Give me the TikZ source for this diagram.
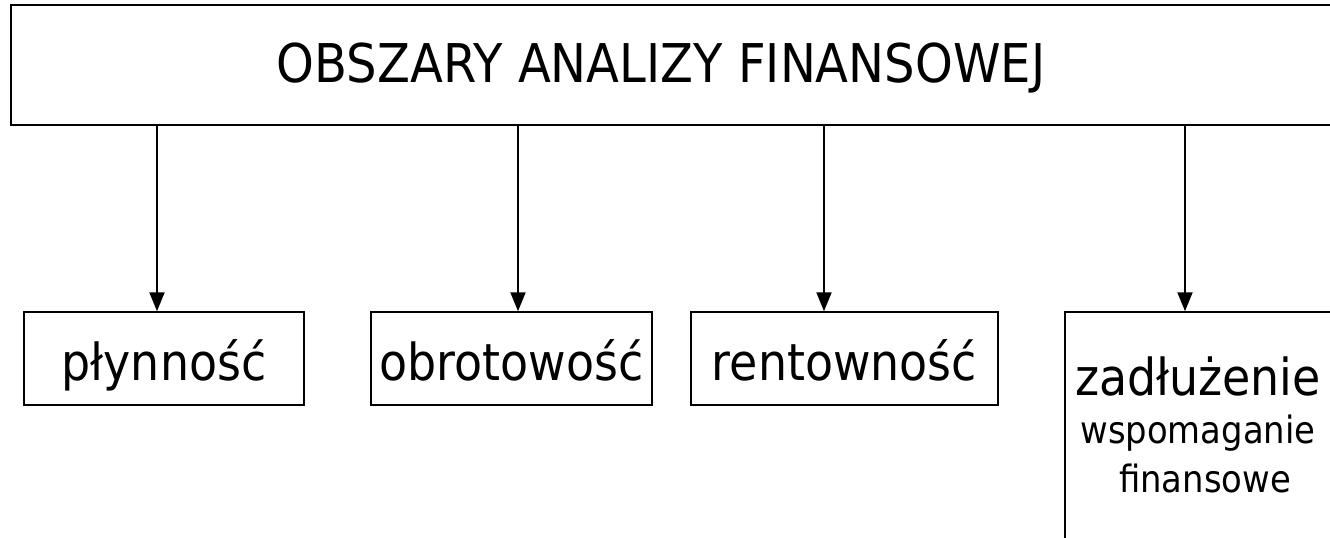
\documentclass[tikz,border=0pt]{standalone}
\usepackage{fontspec}
\setmainfont{DejaVu Sans}[FakeStretch=0.9]
\usetikzlibrary{arrows.meta}
\begin{document}
\begin{tikzpicture}[x=0.5pt,y=-0.5pt,
  box/.style={draw=black, line width=0.75pt, inner sep=0pt},
  leaf/.style={box, minimum height=46.5pt, text height=26.8pt, text depth=5.3pt,
    font=\fontsize{25.5pt}{30pt}\selectfont},
  big/.style={font=\fontsize{25.5pt}{30pt}\selectfont},
  small/.style={font=\fontsize{18.8pt}{22pt}\selectfont},
  arr/.style={line width=1pt, -{Triangle[length=9.5pt,width=7.5pt]}}]
\useasboundingbox (0,0) rectangle (1330,537);
\clip (0,0) rectangle (1330,537);
% top box
\node[box, minimum width=667pt, minimum height=60pt] (top) at (678,65) {};
\node[anchor=base, font=\fontsize{26.7pt}{32pt}\selectfont] (title) at (661,82) {OBSZARY ANALIZY FINANSOWEJ};
% leaves
\node[leaf, minimum width=140pt] (plyn) at (164,358.5) {płynność};
\node[leaf, minimum width=140.5pt] (obrot) at (511.5,358.5) {obrotowość};
\node[leaf, minimum width=153.5pt] (rent) at (844.5,358.5) {rentowność};
\node[box, minimum width=140pt, minimum height=154pt] (zadl) at (1205,466) {};
\node[anchor=base, big] (z1) at (1198,395) {zadłużenie};
\node[anchor=base, small] (z2) at (1198,443) {wspomaganie};
\node[anchor=base, small] (z3) at (1205,492) {finansowe};
% arrow positions
\coordinate (a1) at (157,0);
\coordinate (a2) at (518,0);
\coordinate (a3) at (824,0);
\coordinate (a4) at (1185,0);
\draw[arr] (top.south -| a1) -- (plyn.north -| a1);
\draw[arr] (top.south -| a2) -- (obrot.north -| a2);
\draw[arr] (top.south -| a3) -- (rent.north -| a3);
\draw[arr] (top.south -| a4) -- (zadl.north -| a4);
\end{tikzpicture}
\end{document}
